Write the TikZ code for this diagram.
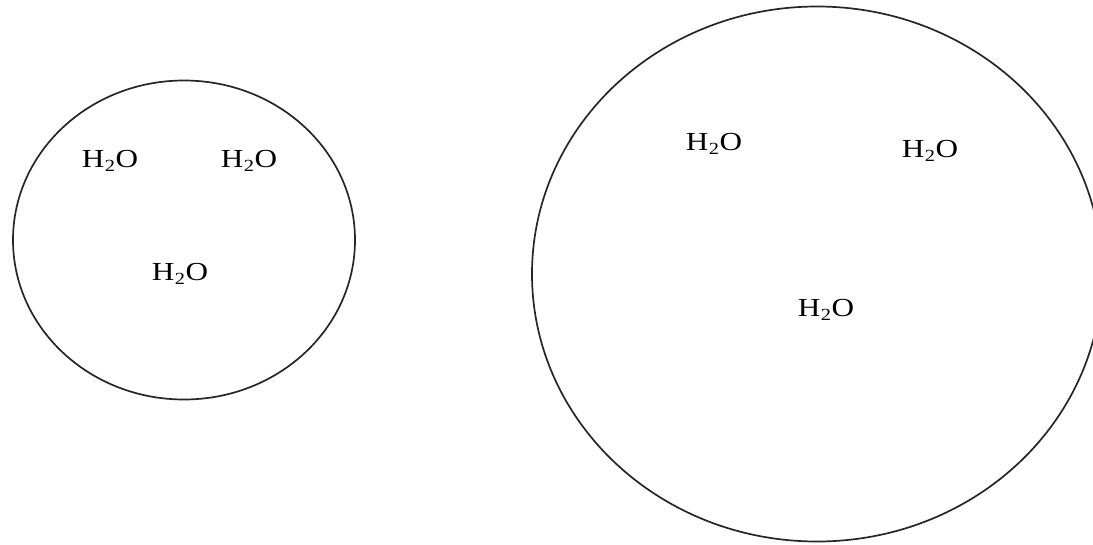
\documentclass[tikz,border=0pt]{standalone}
\usepackage{fontspec}
\setmainfont{Liberation Serif}
\usetikzlibrary{shapes.geometric}
\newcommand{\water}{\scalebox{1.2}[1]{\fontsize{26}{26}\selectfont H\kern0.5pt\raisebox{-4pt}{\fontsize{17}{17}\selectfont 2}\kern0.5pt O}}
\tikzset{
  cell/.style={ellipse, draw=black!85, line width=1.7pt, inner sep=0pt},
  mol/.style={inner sep=0pt, text=black}
}
\begin{document}
\begin{tikzpicture}[x=1pt,y=-1pt]
\useasboundingbox (0,0) rectangle (1093,544);
\clip (0,0) rectangle (1093,544);
\node[cell, minimum width=342pt, minimum height=319pt] (left) at (184,240) {};
\node[cell, minimum width=570pt, minimum height=535pt] (right) at (817,274) {};
\node[mol] (l1) at (110,161) {\water};
\node[mol] (l2) at (249,161) {\water};
\node[mol] (l3) at (180,274) {\water};
\node[mol] (r1) at (714,144) {\water};
\node[mol] (r2) at (930,151) {\water};
\node[mol] (r3) at (826,310) {\water};
\end{tikzpicture}
\end{document}
